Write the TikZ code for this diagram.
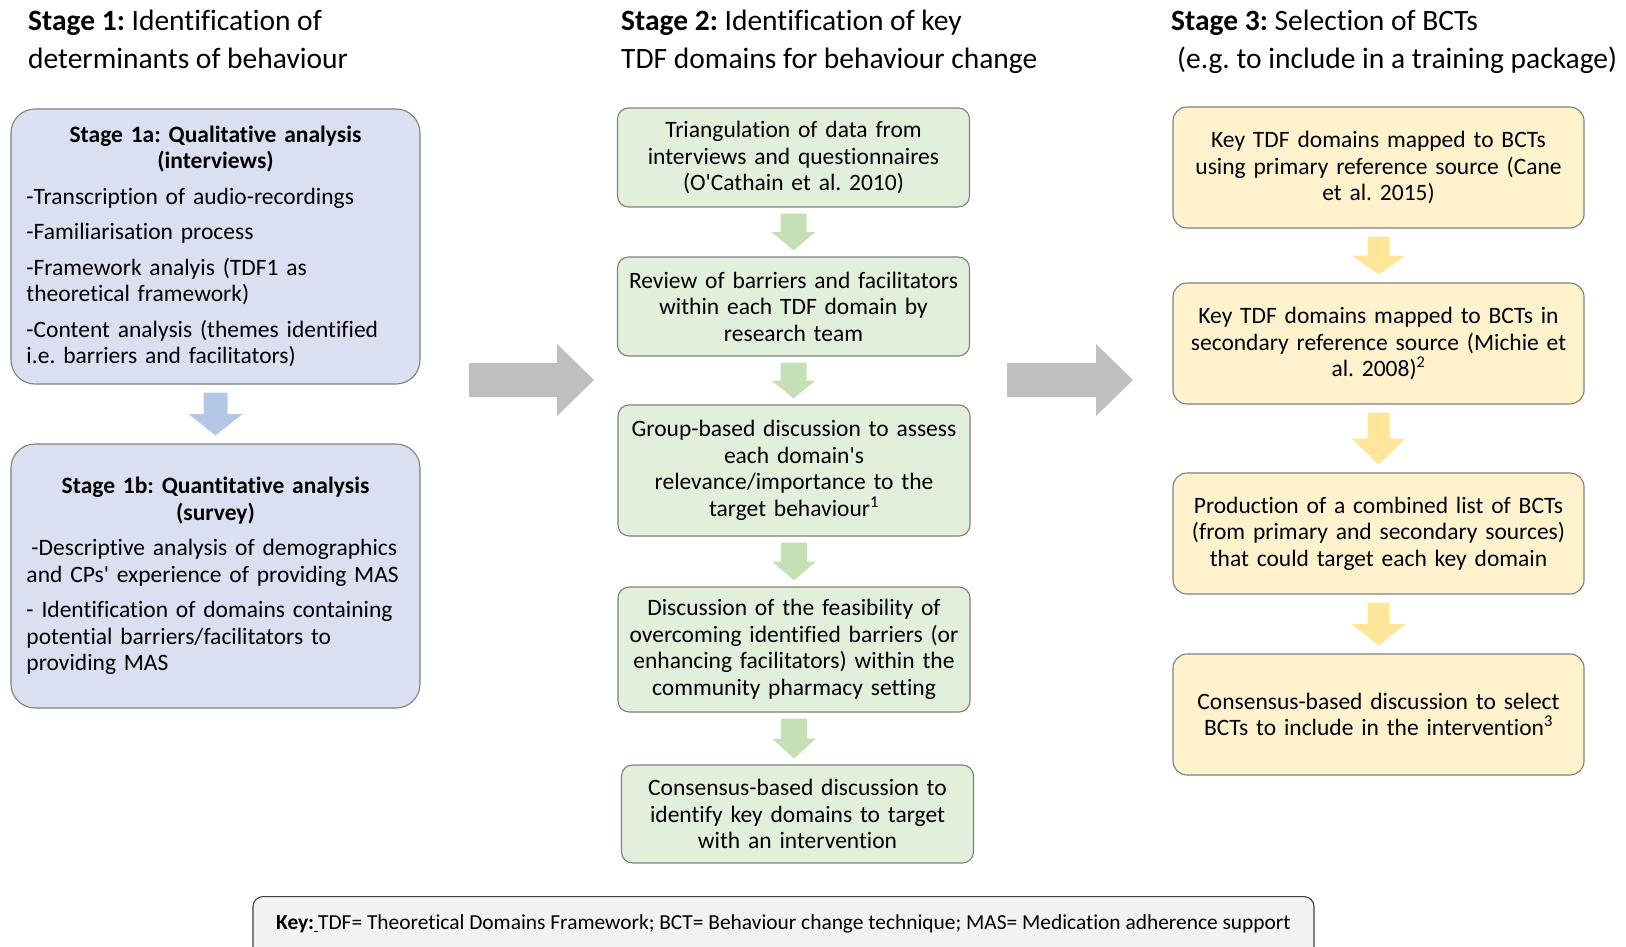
\documentclass[tikz,border=0pt]{standalone}
\usepackage{fontspec}
\setmainfont{Carlito}[Ligatures={TeXOff,NoCommon}]
\usetikzlibrary{calc}
\frenchspacing

\definecolor{bluefill}{HTML}{DAE0F1}
\definecolor{bluearrow}{HTML}{B4C7E7}
\definecolor{greenfill}{HTML}{E2EFDA}
\definecolor{greenarrow}{HTML}{C5E0B4}
\definecolor{yellowfill}{HTML}{FFF2CC}
\definecolor{yellowarrow}{HTML}{FFE699}
\definecolor{greyarrow}{HTML}{BFBFBF}
\definecolor{boxline}{HTML}{7F7F7F}
\definecolor{keyfill}{HTML}{F2F2F2}
\definecolor{keyline}{HTML}{404040}

% downward block arrow between two stacked boxes
% #1 fill style, #2 upper node, #3 lower node, #4 shaft half-width, #5 head half-width, #6 gap
\newcommand\blockdown[6]{%
  \path ($(#2.south)+(0,#6)$) coordinate (bt) ($(#3.north)-(0,#6)$) coordinate (bb);
  \fill[#1] let \p1=(bt), \p2=(bb), \p3=($(bt)!.5!(bb)$) in
    (\x1-#4bp,\y1) -- (\x1+#4bp,\y1) -- (\x1+#4bp,\y3) -- (\x1+#5bp,\y3) -- (\x1,\y2)
    -- (\x1-#5bp,\y3) -- (\x1-#4bp,\y3) -- cycle;}

% rightward block arrow
% #1 fill style, #2 tail coordinate, #3 tip coordinate, #4 shaft half-width, #5 head half-width, #6 head length
\newcommand\blockright[6]{%
  \fill[#1] let \p1=(#2), \p2=(#3) in
    (\x1,\y1+#4bp) -- (\x2-#6bp,\y1+#4bp) -- (\x2-#6bp,\y1+#5bp) -- (\x2,\y1)
    -- (\x2-#6bp,\y1-#5bp) -- (\x2-#6bp,\y1-#4bp) -- (\x1,\y1-#4bp) -- cycle;}

\tikzset{
  bodyfont/.style={font=\fontsize{23.5bp}{26.5bp}\selectfont},
  keyfont/.style={font=\fontsize{21.4bp}{26bp}\selectfont},
  titlefont/.style={font=\fontsize{29.5bp}{38.5bp}\selectfont},
  basebox/.style={draw=boxline, line width=1.1bp, inner sep=0pt, bodyfont},
  bluebox/.style={basebox, fill=bluefill, rounded corners=24bp,
    minimum width=409bp, text width=378bp},
  greenbox/.style={basebox, fill=greenfill, rounded corners=11bp,
    minimum width=352bp, text width=345bp, align=center},
  yellowbox/.style={basebox, fill=yellowfill, rounded corners=14bp,
    minimum width=411bp, text width=405bp, align=center},
  stagetitle/.style={titlefont, anchor=base west, align=left, inner sep=0pt},
}

\begin{document}
\begin{tikzpicture}[x=1bp, y=-1bp]
  \useasboundingbox (0,0) rectangle (1626,946);
  \clip (0,0) rectangle (1626,946);

  % column titles (anchored at the baseline of their second line)
  \node[stagetitle] (t1) at (28,68.5) {\textbf{Stage 1:} Identification of\\determinants of behaviour};
  \node[stagetitle] (t2) at (621,68.5) {\textbf{Stage 2:} Identification of key\\TDF domains for behaviour change};
  \node[stagetitle] (t3) at (1171,68.5) {\textbf{Stage 3:} Selection of BCTs\\\hspace*{6bp}(e.g. to include in a training package)};

  % stage 1
  \node[bluebox, minimum height=275bp] (s1a) at (215.5,246.5) {%
    \parindent=0pt \parskip=9bp
    {\centering\bfseries Stage 1a: Qualitative analysis\\(interviews)\par}
    \raggedright
    -Transcription of audio-recordings\par
    -Familiarisation process\par
    -Framework analyis (TDF1 as\\theoretical framework)\par
    -Content analysis (themes identified\\i.e. barriers and facilitators)\par};
  \node[bluebox, minimum height=264bp] (s1b) at (215.5,576) {%
    \parindent=0pt \parskip=9bp
    {\centering\bfseries Stage 1b: Quantitative analysis\\(survey)\par}
    \raggedright
    \hspace*{5bp}-Descriptive analysis of demographics\\and CPs' experience of providing MAS\par
    - Identification of domains containing\\potential barriers/facilitators to\\providing MAS\par};

  % stage 2
  \node[greenbox, minimum height=99bp] (g1) at (793.5,157.5)
    {Triangulation of data from\\interviews and questionnaires\\(O'Cathain et al. 2010)};
  \node[greenbox, minimum height=99bp] (g2) at (793.5,306.5)
    {Review of barriers and facilitators\\within each TDF domain by\\research team};
  \node[greenbox, minimum height=131bp] (g3) at (794,470.5)
    {Group-based discussion to assess\\each domain's\\relevance/importance to the\\target behaviour\textsuperscript{1}};
  \node[greenbox, minimum height=125bp] (g4) at (794,649.5)
    {Discussion of the feasibility of\\overcoming identified barriers (or\\enhancing facilitators) within the\\community pharmacy setting};
  \node[greenbox, minimum height=98bp] (g5) at (797.5,814)
    {Consensus-based discussion to\\identify key domains to target\\with an intervention};

  % stage 3
  \node[yellowbox, minimum height=121bp] (y1) at (1378.5,167.5)
    {Key TDF domains mapped to BCTs\\using primary reference source (Cane\\et al. 2015)};
  \node[yellowbox, minimum height=121bp] (y2) at (1378.5,343.5)
    {Key TDF domains mapped to BCTs in\\secondary reference source (Michie et\\al. 2008)\textsuperscript{2}};
  \node[yellowbox, minimum height=121bp] (y3) at (1378.5,533.5)
    {Production of a combined list of BCTs\\(from primary and secondary sources)\\that could target each key domain};
  \node[yellowbox, minimum height=121bp] (y4) at (1378.5,714.5)
    {Consensus-based discussion to select\\BCTs to include in the intervention\textsuperscript{3}};

  % vertical flow arrows
  \blockdown{bluearrow, xshift=-7bp}{s1a}{s1b}{12}{27}{8}
  \blockdown{greenarrow}{g1}{g2}{13}{22}{6}
  \blockdown{greenarrow}{g2}{g3}{13}{22}{6}
  \blockdown{greenarrow}{g3}{g4}{13}{22}{6}
  \blockdown{greenarrow}{g4}{g5}{13}{22}{6}
  \blockdown{yellowarrow}{y1}{y2}{11}{27}{8}
  \blockdown{yellowarrow}{y2}{y3}{11}{27}{8}
  \blockdown{yellowarrow}{y3}{y4}{11}{27}{8}

  % arrows between stages
  \coordinate (r1a) at (469,380);
  \coordinate (r1b) at (594,380);
  \coordinate (r2a) at (1007,380);
  \coordinate (r2b) at (1133,380);
  \blockright{greyarrow}{r1a}{r1b}{17}{36}{37}
  \blockright{greyarrow}{r2a}{r2b}{17}{36}{37}

  % key
  \node[draw=keyline, fill=keyfill, line width=1.1bp, rounded corners=10bp,
        minimum width=1061bp, minimum height=80bp, anchor=north] (key) at (783.5,896) {};
  \node[keyfont, anchor=west, inner sep=0pt] (keytext) at (276,924)
    {\textbf{Key:}\underline{\hspace{4bp}}TDF= Theoretical Domains Framework; BCT= Behaviour change technique; MAS= Medication adherence support};
\end{tikzpicture}
\end{document}
